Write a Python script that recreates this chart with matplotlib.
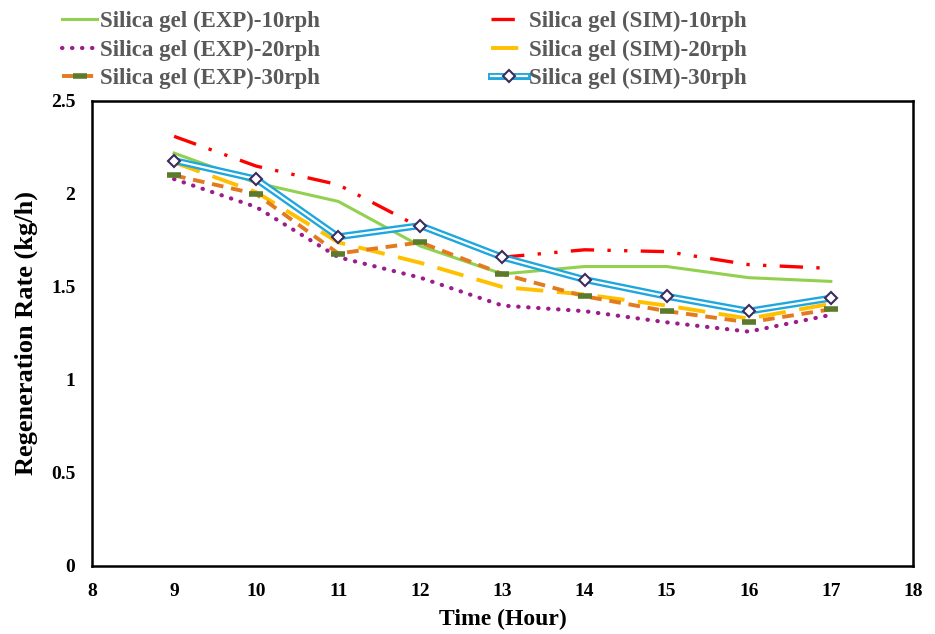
import numpy as np
import matplotlib.pyplot as plt
from matplotlib.legend_handler import HandlerTuple

plt.rcParams['font.family'] = ['Liberation Serif', 'DejaVu Serif']
plt.rcParams['font.weight'] = 'bold'
plt.rcParams['axes.labelweight'] = 'bold'

hours = [9, 10, 11, 12, 13, 14, 15, 16, 17]
exp_10 = [2.22, 2.06, 1.96, 1.72, 1.57, 1.61, 1.61, 1.55, 1.53]
sim_10 = [2.31, 2.15, 2.05, 1.82, 1.66, 1.70, 1.69, 1.62, 1.60]
exp_20 = [2.08, 1.93, 1.66, 1.55, 1.40, 1.37, 1.31, 1.26, 1.35]
sim_20 = [2.17, 2.01, 1.74, 1.63, 1.50, 1.46, 1.40, 1.33, 1.41]
exp_30 = [2.10, 2.00, 1.68, 1.74, 1.57, 1.45, 1.37, 1.31, 1.38]
sim_30 = [2.18, 2.08, 1.77, 1.83, 1.66, 1.54, 1.45, 1.37, 1.44]

fig = plt.figure(figsize=(9.35, 6.34), dpi=100)
ax = fig.add_axes([0.0984, 0.1073, 0.878, 0.7334])

h1, = ax.plot(hours, exp_10, color='#92d050', lw=2.2)
h2, = ax.plot(hours, sim_10, color='#ff0000', lw=2.4, dashes=(7, 4, 1, 4, 1, 4))
h3, = ax.plot(hours, exp_20, color='#9b1c8a', lw=3, linestyle=(0, (0.1, 2.3)),
              dash_capstyle='round')
h4, = ax.plot(hours, sim_20, color='#ffc000', lw=2.8, dashes=(7, 3.5))
h5, = ax.plot(hours, exp_30, color='#e47a20', lw=2.8, dashes=(3, 2))
h5m, = ax.plot(hours, exp_30, color='#5c7a2c', lw=0, marker='_', ms=10, mew=4)
h6, = ax.plot(hours, sim_30, color='#1ea7df', lw=5)
h6w, = ax.plot(hours, sim_30, color='white', lw=1.6)
h6m, = ax.plot(hours, sim_30, lw=0, marker='D', ms=6, mfc='white',
               mec='#3d2b5a', mew=1.5)

ax.set_xlim(8, 18)
ax.set_ylim(0, 2.5)
ax.set_xticks(range(8, 19))
ax.set_yticks([0, 0.5, 1, 1.5, 2, 2.5])
ax.set_yticklabels(['0', '0.5', '1', '1.5', '2', '2.5'])
ax.tick_params(length=0, labelsize=14, pad=12)
for s in ax.spines.values():
    s.set_linewidth(1.8)
ax.set_xlabel('Time (Hour)', fontsize=17, labelpad=7)
ax.set_ylabel('Regeneration Rate (kg/h)', fontsize=19, labelpad=9)

handles = [h1, h3, (h5, h5m), h2, h4, (h6, h6w, h6m)]
labels = ['Silica gel (EXP)-10rph', 'Silica gel (EXP)-20rph', 'Silica gel (EXP)-30rph',
          'Silica gel (SIM)-10rph', 'Silica gel (SIM)-20rph', 'Silica gel (SIM)-30rph']
leg = fig.legend(handles, labels, ncol=2, loc='upper left', bbox_to_anchor=(0.044, 1.015),
                 frameon=False, fontsize=16.5, handlelength=1.55, handletextpad=0.1,
                 columnspacing=7.5, labelspacing=0.32,
                 handler_map={tuple: HandlerTuple(ndivide=1)})
for t in leg.get_texts():
    t.set_color('#595959')

fig.savefig('out.png', dpi=100)
